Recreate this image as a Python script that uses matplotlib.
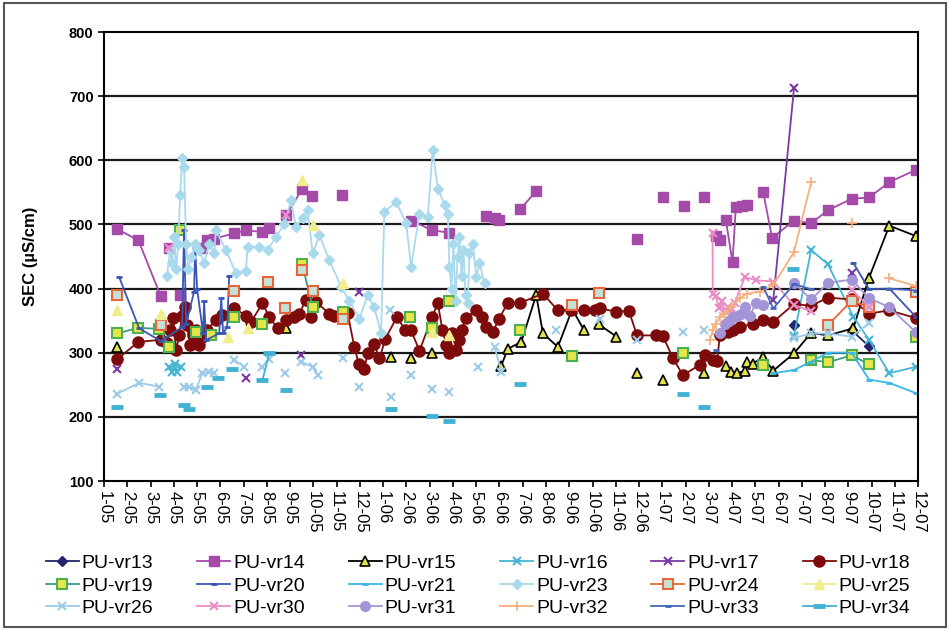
import matplotlib.pyplot as plt
import numpy as np
from matplotlib.patches import Rectangle

plt.rcParams['font.family'] = ['Liberation Sans', 'DejaVu Sans']

nan = np.nan

# x = months since Jan 2005 (0 = 1-05), y = SEC in uS/cm
months = ['%d-%02d' % (m % 12 + 1, 5 + m // 12) for m in range(36)]

vr13_x = [29.66, nan, 32.14, 32.89]
vr13_y = [343, nan, 335, 310]

vr14_x = [0.56, 1.48, 2.44, nan, 2.80, nan, 3.27, nan, 4.22, 4.43, 4.74, 5.60, 6.10, 6.81, 7.10, nan, 7.83, 8.51, 8.95, nan,
          10.25, nan, 13.20, 14.11, 14.85, nan, 16.43, 16.79, 17.00, nan, 17.90, 18.58, nan, 22.91, nan, 24.01, nan,
          24.92, nan, 25.80, nan, 26.33, 26.50, nan, 26.73, 27.02, 27.16, 27.41, 27.62, nan, 28.34, 28.72, 29.66,
          30.40, 31.12, 32.14, 32.89, 33.76, 34.90]
vr14_y = [493, 475, 388, nan, 463, nan, 390, nan, 463, 475, 478, 486, 491, 488, 494, nan, 514, 555, 544, nan,
          546, nan, 506, 491, 487, nan, 513, 510, 507, nan, 524, 552, nan, 477, nan, 543, nan,
          529, nan, 543, nan, 482, 476, nan, 507, 441, 527, 529, 530, nan, 550, 479, 506,
          502, 522, 540, 542, 566, 585]

vr15_x = [0.57, nan, 7.82, nan, 12.34, nan, 13.20, nan, 14.11, nan, 17.08, 17.36, 17.94, 18.58, 18.87, 19.51, 20.13,
          20.62, nan, 21.28, 22.03, nan, 22.91, nan, 24.03, nan, 25.80, nan, 26.73, 26.95, 27.19, 27.55, 27.62,
          27.88, 28.34, 28.77, 29.66, 30.40, 31.12, 32.21, 32.89, 33.76, 34.90]
vr15_y = [309, nan, 338, nan, 293, nan, 291, nan, 299, nan, 280, 306, 317, 390, 330, 309, 368,
          336, nan, 344, 325, nan, 268, nan, 258, nan, 269, nan, 279, 270, 269, 271, 286,
          283, 293, 272, 299, 331, 327, 338, 417, 498, 482]

vr16_x = [2.80, 2.93, 3.06, 3.14, 3.31, nan, 29.66, 30.40, 31.12, 32.21, 32.89, 33.76, 34.90]
vr16_y = [278, 270, 282, 270, 277, nan, 326, 460, 438, 356, 320, 268, 278]

vr17_x = [0.57, nan, 6.10, nan, 8.47, nan, 10.98, nan, 28.77, 29.66, nan, 32.14]
vr17_y = [274, nan, 260, nan, 296, nan, 395, nan, 382, 712, nan, 424]

vr18_x = [0.57, 1.48, 2.44, 2.71, 2.84, 2.97, 3.10, 3.23, 3.36, 3.49, 3.57, 3.70, 3.83, 3.96, 4.09, 4.22, 4.43,
          4.81, 5.08, 5.60, 6.10, 6.32, 6.81, 7.10, 7.46, 7.82, 8.18, 8.39, 8.68, 8.90, 9.11, 9.69, 9.90, 10.47,
          10.76, 10.95, 11.19, 11.33, 11.62, 11.84, 12.10, 12.58, 12.96, 13.20, 13.56, 14.11, 14.35, 14.55,
          14.72, 14.85, 14.98, 15.15, 15.28, 15.37, 15.54, 16.00, 16.27, 16.43, 16.72, 16.97, 17.36, 17.90,
          18.87, 19.51, 20.09, 20.62, 21.09, 21.31, 22.03, 22.57, 22.91, 23.75, 24.03, 24.46, 24.89, 25.61,
          25.83, 26.16, 26.36, 26.47, 26.83, 27.03, 27.33, 27.91, 28.34, 28.77, 29.66, 30.40, 31.12, 32.14,
          32.89, 33.76, 34.90]
vr18_y = [290, 317, 320, 315, 335, 354, 304, 327, 357, 371, 343, 312, 327, 335, 312, 325, 336,
          351, 359, 369, 358, 348, 377, 356, 338, 351, 355, 361, 382, 356, 379, 361, 358, 362,
          309, 283, 274, 299, 314, 291, 322, 355, 336, 335, 303, 356, 377, 335,
          312, 300, 330, 305, 320, 335, 354, 366, 355, 340, 333, 352, 378, 378,
          392, 366, 366, 366, 366, 369, 364, 365, 327, 327, 326, 291, 265, 281,
          296, 289, 287, 327, 332, 336, 340, 345, 351, 348, 376, 373, 386, 383,
          361, 366, 354]

vr19_x = [0.57, 1.48, 2.37, 2.80, nan, 3.27, nan, 3.95, 4.59, nan, 5.60, nan, 6.81, nan, 8.51, 8.97, nan, 10.26, nan,
          13.17, nan, 14.11, nan, 14.85, nan, 17.90, nan, 20.13, nan, 24.89, nan, 28.34, nan, 30.40, 31.12, 32.14,
          32.89, nan, 34.90]
vr19_y = [330, 339, 337, 309, nan, 491, nan, 332, 327, nan, 355, nan, 344, nan, 439, 371, nan, 364, nan,
          356, nan, 338, nan, 380, nan, 336, nan, 295, nan, 300, nan, 281, nan, 289, 285, 296,
          282, nan, 324]

vr20_x = [0.65, 1.51, 2.45, 3.36, 3.44, 3.53, 3.87, 3.92, 4.00, 4.26, 4.30, 4.39, 4.95, 5.04, 5.12, 5.29, 5.38,
          nan, 32.21, 32.89, 33.76, 34.90]
vr20_y = [418, 338, 318, 340, 492, 345, 395, 465, 400, 330, 380, 320, 330, 385, 330, 340, 420,
          nan, 440, 399, 400, 356]

vr21_x = [28.77, 29.66, 30.40, 31.12, 32.14, 32.89, 33.76, 34.90]
vr21_y = [268, 273, 286, 300, 300, 258, 253, 237]

vr23_x = [2.71, 2.84, 2.93, 3.01, 3.10, 3.19, 3.27, 3.36, 3.44, 3.53, 3.62, 3.75, 3.92, 4.09, 4.30, 4.52, 4.74,
          4.81, 5.24, 5.67, 6.10, 6.17, 6.67, 7.03, 7.39, 7.75, 8.04, 8.25, 8.54, 8.75, 8.97, 9.26, 9.69, 10.19,
          10.55, 10.98, 11.33, 11.62, 11.91, 12.05, 12.56, 12.99, 13.20, 13.56, 13.92, 14.13, 14.35, 14.64,
          14.78, 14.85, 14.94, 15.02, 15.11, 15.20, 15.28, 15.37, 15.45, 15.54, 15.64, 15.71, 15.85, 16.00,
          16.14, 16.36]
vr23_y = [420, 460, 440, 480, 430, 470, 546, 603, 590, 470, 430, 450, 470, 460, 440, 470, 455,
          491, 460, 424, 428, 465, 465, 460, 481, 500, 538, 496, 510, 522, 455, 483, 444, 403,
          380, 353, 390, 371, 330, 520, 535, 502, 434, 517, 512, 616, 556, 530,
          517, 434, 400, 470, 380, 450, 481, 420, 460, 390, 377, 455, 470, 418,
          440, 408]

vr24_x = [0.57, nan, 2.44, nan, 5.60, nan, 7.07, nan, 7.79, nan, 8.51, nan, 8.97, nan, 10.26, nan, 20.13, nan, 21.28,
          nan, 31.12, 32.14, 32.89, nan, 34.90]
vr24_y = [390, nan, 343, nan, 396, nan, 410, nan, 369, nan, 429, nan, 396, nan, 353, nan, 374, nan, 393,
          nan, 343, 381, 371, nan, 394]

vr25_x = [0.57, nan, 2.44, nan, 5.31, nan, 6.17, nan, 8.51, nan, 8.97, nan, 10.26, nan, 14.11, nan, 14.85]
vr25_y = [366, nan, 361, nan, 325, nan, 338, nan, 569, nan, 499, nan, 408, nan, 332, nan, 327]

vr26_x = [0.57, 1.51, 2.37, nan, 3.44, 3.66, 3.95, 4.22, 4.52, 4.74, nan, 5.60, 6.03, nan, 6.81, 7.10, nan, 7.79,
          nan, 8.47, 8.97, 9.18, nan, 10.26, nan, 10.95, nan, 12.30, nan, 12.34, nan, 13.20, nan, 14.11, nan,
          14.85, nan, 16.07, nan, 16.79, 17.08, nan, 19.44, nan, 21.31, nan, 22.91, nan, 24.89, nan, 25.80, nan,
          29.66, 30.40, 31.12, 32.14, 32.89]
vr26_y = [236, 253, 247, nan, 247, 247, 242, 268, 270, 268, nan, 289, 278, nan, 278, 290, nan, 268,
          nan, 286, 278, 265, nan, 291, nan, 247, nan, 366, nan, 231, nan, 265, nan, 244, nan,
          239, nan, 278, nan, 309, 270, nan, 335, nan, 353, nan, 320, nan, 332, nan, 336, nan,
          323, 330, 330, 325, 346]

vr30_x = [2.80, nan, 7.82, nan, 26.16, 26.17, 26.30, 26.43, 26.56, 26.69, 26.82, 26.95, 27.12, 27.55, 28.02, 28.77,
          29.66, 30.40, nan, 32.14, 32.89]
vr30_y = [463, nan, 514, nan, 486, 392, 388, 370, 380, 365, 372, 360, 378, 418, 413, 411,
          374, 365, nan, 398, 372]

vr31_x = [26.47, 26.69, 26.86, 27.03, 27.20, 27.37, 27.55, 27.77, 28.02, 28.33, nan, 29.66, 30.40, 31.12, 32.14,
          32.89, 33.76, 34.90]
vr31_y = [330, 345, 350, 355, 358, 360, 372, 358, 377, 375, nan, 409, 383, 409, 414,
          385, 371, 332]

vr32_x = [26.05, 26.17, 26.30, 26.47, 26.69, 26.95, 27.33, 27.62, 28.20, 28.77, 29.66, 30.40, nan, 32.14, nan,
          33.76, 34.90]
vr32_y = [320, 335, 345, 355, 360, 372, 385, 392, 395, 405, 457, 566, nan, 502, nan,
          416, 404]

vr33_x = [26.33, nan, 28.34, 28.77, 29.66, 30.40, nan, 33.76, 34.90]
vr33_y = [305, nan, 403, 369, 407, 399, nan, 400, 397]

vr34_x = [0.57, nan, 2.40, nan, 3.44, 3.66, nan, 4.43, nan, 4.88, nan, 5.52, nan, 6.81, 7.10, nan, 7.82, nan,
          12.34, nan, 14.11, nan, 14.85, nan, 17.90, nan, 24.89, nan, 25.80, nan, 29.62]
vr34_y = [215, nan, 234, nan, 218, 213, nan, 246, nan, 260, nan, 275, nan, 257, 299, nan, 242, nan,
          213, nan, 201, nan, 194, nan, 252, nan, 235, nan, 215, nan, 430]

series = [
    ('PU-vr13', vr13_x, vr13_y, dict(color='#24246e', marker='D', ms=5)),
    ('PU-vr14', vr14_x, vr14_y, dict(color='#a44aa8', marker='s', ms=7)),
    ('PU-vr15', vr15_x, vr15_y, dict(color='black', marker='^', ms=7, mfc='#e3e34a', mec='black', mew=1.2)),
    ('PU-vr16', vr16_x, vr16_y, dict(color='#45b5d2', marker='x', ms=6, mew=1.5)),
    ('PU-vr17', vr17_x, vr17_y, dict(color='#7a3aa2', marker='x', ms=6, mew=1.5)),
    ('PU-vr18', vr18_x, vr18_y, dict(color='#7e0b0b', marker='o', ms=8)),
    ('PU-vr19', vr19_x, vr19_y, dict(color='#3a9a8a', marker='s', ms=7, mfc='#e6e64a', mec='#4caf50', mew=1.5)),
    ('PU-vr20', vr20_x, vr20_y, dict(color='#3a56b4', marker='_', ms=5, mew=2)),
    ('PU-vr21', vr21_x, vr21_y, dict(color='#3ab6ea', marker='_', ms=5, mew=2)),
    ('PU-vr23', vr23_x, vr23_y, dict(color='#a9d9ec', marker='D', ms=5)),
    ('PU-vr24', vr24_x, vr24_y, dict(color='#e8643a', marker='s', ms=7, mfc='#c6e2d8', mec='#e8643a', mew=1.5)),
    ('PU-vr25', vr25_x, vr25_y, dict(color='#f1ec8c', marker='^', ms=7)),
    ('PU-vr26', vr26_x, vr26_y, dict(color='#9ccbea', marker='x', ms=6, mew=1.5)),
    ('PU-vr30', vr30_x, vr30_y, dict(color='#ea8cc6', marker='x', ms=6, mew=1.5)),
    ('PU-vr31', vr31_x, vr31_y, dict(color='#a394d8', marker='o', ms=7)),
    ('PU-vr32', vr32_x, vr32_y, dict(color='#f4b07e', marker='+', ms=7, mew=1.2)),
    ('PU-vr33', vr33_x, vr33_y, dict(color='#4666bc', marker='_', ms=5, mew=2)),
    ('PU-vr34', vr34_x, vr34_y, dict(color='#42b2d4', marker='_', ms=8, mew=3.5)),
]

fig = plt.figure(figsize=(9.5, 6.3), dpi=100)
fig.patches.append(Rectangle((0.004, 0.005), 0.992, 0.99, transform=fig.transFigure,
                             fill=False, edgecolor='#555555', linewidth=1.5))
ax = fig.add_axes([0.1095, 0.2365, 0.857, 0.7127])

handles = []
for name, xs, ys, style in series:
    h, = ax.plot(xs, ys, lw=1.3, label=name, **style)
    handles.append(h)

ax.set_xlim(0, 35)
ax.set_ylim(100, 800)
ax.set_yticks(np.arange(100, 801, 100))
ax.set_yticklabels([str(v) for v in range(100, 801, 100)], fontweight='bold', fontsize=10.5)
ax.set_xticks(np.arange(36))
ax.set_xticklabels(months, rotation=270, fontsize=12, ha='center', va='top')
ax.tick_params(axis='both', direction='out', length=4, width=1.2)
ax.set_ylabel('SEC (µS/cm)', fontweight='bold', fontsize=12, labelpad=22)
for y in range(200, 800, 100):
    ax.axhline(y, color='#1a1a1a', lw=1.6, zorder=0.5)
for s in ax.spines.values():
    s.set_linewidth(1.5)

# legend is filled row by row in the original
order = [r * 6 + c for c in range(6) for r in range(3)]
fig.legend([handles[i] for i in order], [series[i][0] for i in order],
           loc='upper left', bbox_to_anchor=(0.038, 0.135), ncol=6, frameon=False,
           fontsize=14, handlelength=1.7, handletextpad=0.15, columnspacing=2.25,
           labelspacing=0.25, borderpad=0, numpoints=1)

plt.savefig('out.png', dpi=100)
